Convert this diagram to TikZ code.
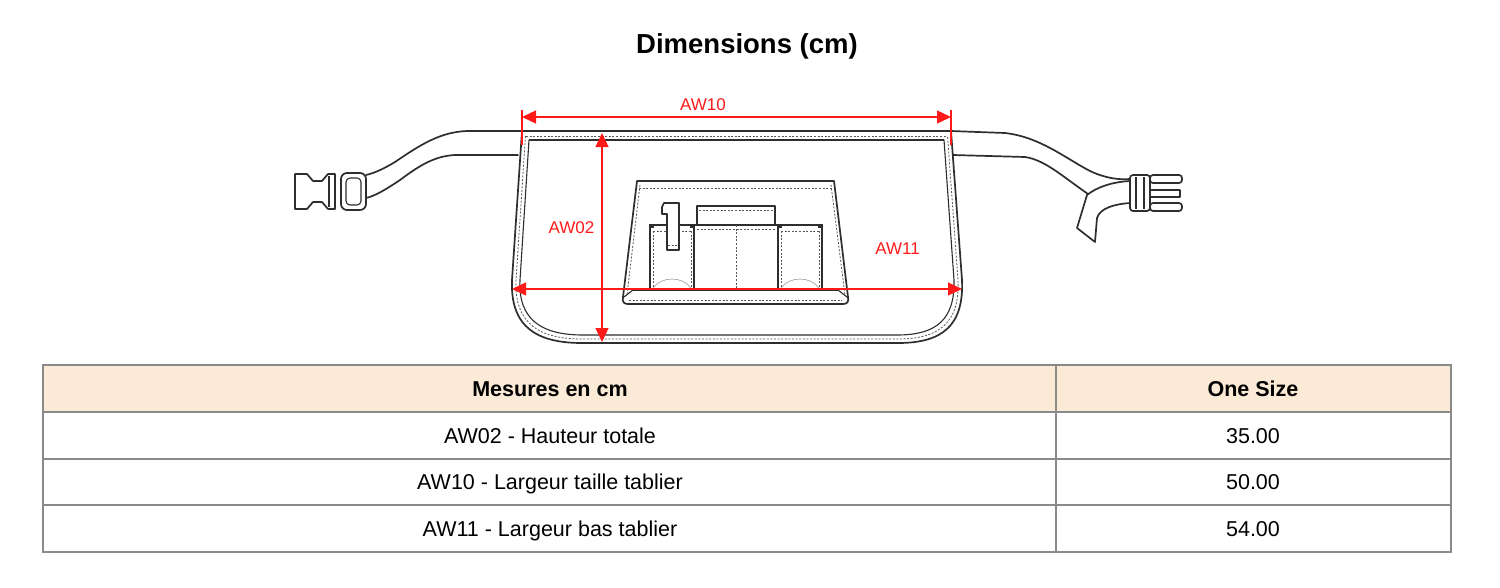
\documentclass[tikz,border=0pt]{standalone}
\usepackage{fontspec}
\setmainfont{Liberation Sans}
\usetikzlibrary{arrows.meta}
\definecolor{ink}{HTML}{2E2E2E}
\definecolor{dimred}{HTML}{FF1A1A}
\definecolor{hdrfill}{HTML}{FAEAD6}
\definecolor{gridgray}{HTML}{8A8A8A}
\tikzset{
  outl/.style={draw=ink, line width=1.7pt, line join=round, line cap=round},
  thinl/.style={draw=ink, line width=1.1pt, line join=round},
  stitch/.style={draw=ink!80, line width=0.8pt, dash pattern=on 2pt off 1.6pt},
  softl/.style={draw=black!35, line width=0.7pt},
  dimline/.style={draw=dimred, line width=1.4pt, {Triangle[length=14pt,width=13pt]}-{Triangle[length=14pt,width=13pt]}},
  dimtick/.style={draw=dimred, line width=1.2pt},
  dimlbl/.style={text=dimred, font=\fontsize{17}{17}\selectfont, inner sep=0pt, anchor=base},
  cell/.style={font=\fontsize{21.5}{22}\selectfont, inner sep=0pt, anchor=base},
  hcell/.style={font=\fontsize{21.5}{22}\selectfont\bfseries, inner sep=0pt, anchor=base},
  gridl/.style={draw=gridgray, line width=2pt},
}
\begin{document}
\begin{tikzpicture}[x=1pt,y=-1pt]
\fill[white] (0,0) rectangle (1500,587);
\useasboundingbox (0,0) rectangle (1500,587);

% title
\node[font=\fontsize{27.5}{28}\selectfont\bfseries, inner sep=0pt, anchor=base] (title) at (747,53) {Dimensions (cm)};

% ---------- left strap & buckle
\draw[outl] (522,131) -- (467,131) .. controls (440,132) and (420,145) .. (395,162) .. controls (385,168) and (375,173) .. (366,175);
\draw[outl] (518,155) -- (455,155) .. controls (435,156) and (420,165) .. (400,180) .. controls (385,190) and (375,196) .. (366,198);
% slider
\draw[outl, rounded corners=6] (341,173) rectangle (366,210);
\draw[thinl, rounded corners=4] (346,178) rectangle (361,205);
% female buckle
\draw[outl] (295,174) -- (307,174) -- (313,181) -- (322,181) -- (328,174) -- (335,174) -- (335,209) -- (328,209) -- (322,202) -- (313,202) -- (307,209) -- (295,209) -- cycle;
\draw[thinl] (329,176) -- (329,207);

% ---------- right strap & buckle
\draw[outl] (951,131) -- (1005,133) .. controls (1040,137) and (1065,158) .. (1090,171) .. controls (1105,178) and (1118,180) .. (1130,179);
\draw[outl] (953,155) -- (1025,157) .. controls (1045,160) and (1062,176) .. (1088,194);
% loose end
\draw[outl] (1087,195) .. controls (1097,187) and (1112,182) .. (1130,181);
\draw[outl] (1087,195) -- (1077,228) -- (1095,242) -- (1097,218) .. controls (1100,208) and (1115,204) .. (1130,203);
% male buckle
\draw[outl, rounded corners=3] (1130,175) rectangle (1150,211);
\draw[thinl] (1136,177) -- (1136,209);
\draw[thinl] (1144,177) -- (1144,209);
\draw[outl, rounded corners=3] (1150,175) rectangle (1182,183);
\draw[outl] (1150,190) rectangle (1180,197);
\draw[outl, rounded corners=3] (1150,203) rectangle (1182,211);

% ---------- apron body
\draw[outl] (522,131) -- (951,131);
\draw[outl] (522,131) -- (512,280) .. controls (510,328) and (538,343) .. (582,343) -- (898,343) .. controls (942,343) and (964,326) .. (962,280) -- (951,131);
\draw[thinl] (529,140) -- (520,280) .. controls (518,320) and (542,335) .. (583,335) -- (897,335) .. controls (936,335) and (955,320) .. (954,280) -- (944,140);
\draw[stitch] (525.5,136) -- (516,280) .. controls (514,324) and (540,339) .. (582,339) -- (898,339) .. controls (939,339) and (960,323) .. (958,280) -- (947.5,136);
\draw[thinl] (529,140) -- (944,140);
\draw[stitch] (526,136) -- (947,136);

% ---------- front pocket
\draw[outl] (637,181) -- (834,181) -- (848,297) .. controls (849,302) and (847,304) .. (843,304) -- (628,304) .. controls (624,304) and (622,302) .. (623,297) -- cycle;
\draw[stitch] (639,188) -- (833,188);
\draw[stitch] (640,185) -- (627,295);
\draw[stitch] (831,185) -- (845,295);
\draw[thinl] (633,290) -- (838,290);
\draw[thinl] (624,297) -- (633,290);
\draw[thinl] (847,297) -- (838,290);
\draw[stitch] (629,300) -- (842,300);
% middle pocket with flap
\draw[outl] (697,225) -- (697,206) -- (775,206) -- (775,225);
\draw[stitch] (699,210.5) -- (773,210.5);
\draw[outl] (650,290) -- (650,225) -- (822,225) -- (822,290);
\draw[outl] (694,225) -- (694,290);
\draw[outl] (778,225) -- (778,290);
\draw[stitch] (697,229) -- (775,229);
\draw[stitch] (736,225) -- (736,289);
% side pockets
\draw[stitch] (653,231) -- (691,231);
\draw[stitch] (653,231) -- (653,288);
\draw[stitch] (691,231) -- (691,288);
\draw[stitch] (781,231) -- (819,231);
\draw[stitch] (781,231) -- (781,288);
\draw[stitch] (819,231) -- (819,288);
\draw[softl] (653,288) .. controls (662,276) and (682,276) .. (691,288);
\draw[softl] (781,288) .. controls (790,276) and (810,276) .. (819,288);
\fill[ink] (649,224) rectangle (654,228);
\fill[ink] (690,224) rectangle (695,228);
\fill[ink] (777,224) rectangle (782,228);
\fill[ink] (818,224) rectangle (823,228);
% pen
\draw[outl, fill=white] (664,203) -- (679,203) -- (679,250) -- (667,250) -- (667,214) -- (662,214) -- (662,207) -- cycle;
\draw[stitch] (668,245) -- (678,245);

% ---------- dimensions
\coordinate (a10l) at (522,117);
\coordinate (a10r) at (951,117);
\draw[dimtick] (522,110) -- (522,145);
\draw[dimtick] (951,110) -- (951,145);
\draw[dimline] (a10l) -- (a10r);
\node[dimlbl] (l10) at (703,110.5) {AW10};

\coordinate (a02t) at (602,133);
\coordinate (a02b) at (602,342);
\draw[dimline] (a02t) -- (a02b);
\node[dimlbl] (l02) at (571.5,233.5) {AW02};

\coordinate (a11l) at (512,289);
\coordinate (a11r) at (962,289);
\draw[dimline] (a11l) -- (a11r);
\node[dimlbl] (l11) at (897.5,254) {AW11};

% ---------- table
\fill[hdrfill] (43,365) rectangle (1451,412);
\draw[gridl] (43,412) -- (1451,412);
\draw[gridl] (43,459) -- (1451,459);
\draw[gridl] (43,505) -- (1451,505);
\draw[gridl] (1056,365) -- (1056,552);
\draw[gridl] (43,365) rectangle (1451,552);

\node[hcell] (h1) at (550,396.7) {Mesures en cm};
\node[hcell] (h2) at (1253,396.7) {One Size};
\node[cell] (r1a) at (550,443.7) {AW02 - Hauteur totale};
\node[cell] (r1b) at (1253,443.7) {35.00};
\node[cell] (r2a) at (550,489.7) {AW10 - Largeur taille tablier};
\node[cell] (r2b) at (1253,489.7) {50.00};
\node[cell] (r3a) at (550,536.7) {AW11 - Largeur bas tablier};
\node[cell] (r3b) at (1253,536.7) {54.00};
\end{tikzpicture}
\end{document}
